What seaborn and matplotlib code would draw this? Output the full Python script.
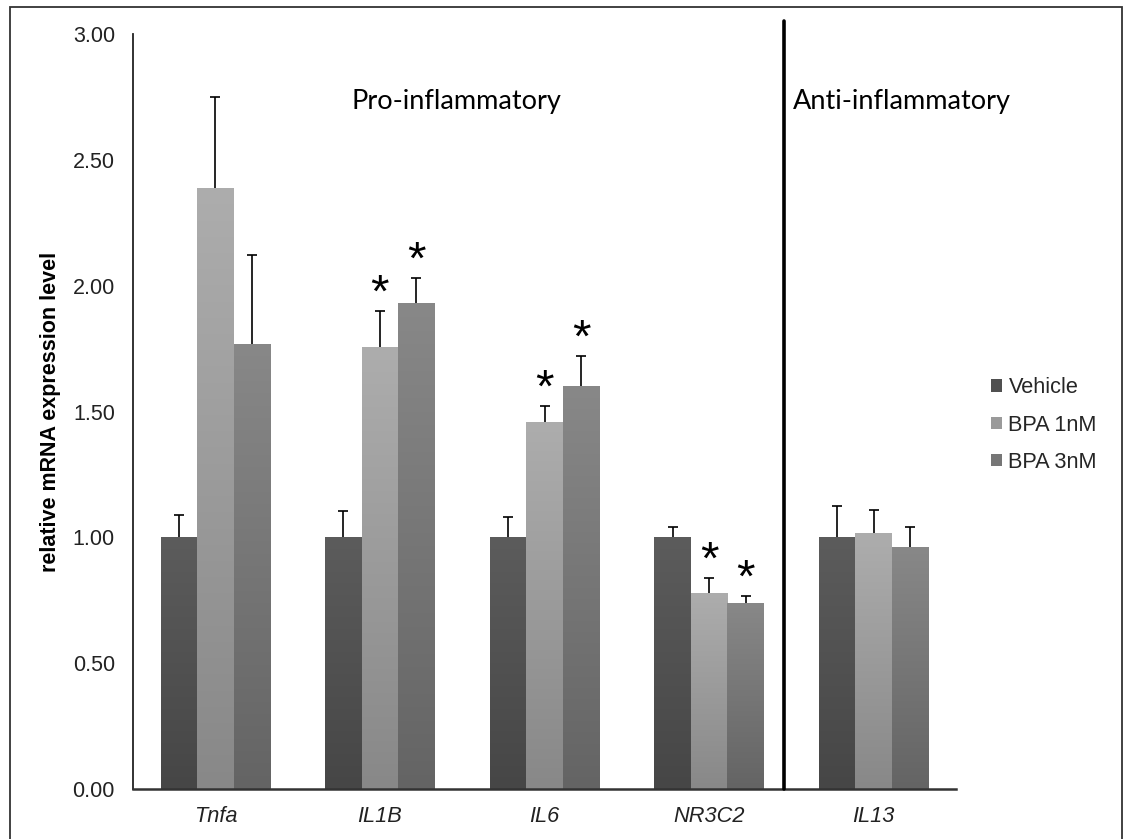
import numpy as np
import pandas as pd
import seaborn as sns
import matplotlib
matplotlib.use("Agg")
import matplotlib.pyplot as plt
from matplotlib.colors import LinearSegmentedColormap
from matplotlib.patches import Patch, Rectangle
from matplotlib.container import BarContainer

# ---- data ----
genes = ["Tnfa", "IL1B", "IL6", "NR3C2", "IL13"]
groups = ["Vehicle", "BPA 1nM", "BPA 3nM"]
vehicle = [1.00, 1.00, 1.00, 1.00, 1.00]
bpa1 = [2.39, 1.755, 1.46, 0.78, 1.016]
bpa3 = [1.77, 1.93, 1.60, 0.74, 0.96]
err_vehicle = [0.09, 0.105, 0.08, 0.04, 0.125]
err_bpa1 = [0.36, 0.145, 0.06, 0.057, 0.092]
err_bpa3 = [0.35, 0.10, 0.12, 0.025, 0.08]
sig_vehicle = [False, False, False, False, False]
sig_bpa1 = [False, True, True, True, False]
sig_bpa3 = [False, True, True, True, False]
yticks = [0.0, 0.5, 1.0, 1.5, 2.0, 2.5, 3.0]
section_labels = ["Pro-inflammatory", "Anti-inflammatory"]

values = [vehicle, bpa1, bpa3]
errors = [err_vehicle, err_bpa1, err_bpa3]
sigs = [sig_vehicle, sig_bpa1, sig_bpa3]

df = pd.DataFrame({
    "gene": np.tile(genes, 3),
    "group": np.repeat(groups, len(genes)),
    "value": np.concatenate(values),
})

# ---- style ----
sns.set_theme(style="white")
plt.rcParams["font.family"] = ["Liberation Sans", "DejaVu Sans"]

bottom_colors = ["#464646", "#888888", "#646464"]
top_colors = ["#5c5c5c", "#adadad", "#888888"]
mid_colors = ["#505050", "#9a9a9a", "#767676"]

fig = plt.figure(figsize=(11.28, 8.39), dpi=100)
ax = fig.add_axes([133 / 1128, 1 - 789 / 839, (956 - 133) / 1128, (789 - 34) / 839])

sns.barplot(data=df, x="gene", y="value", hue="group", order=genes, hue_order=groups,
            palette=mid_colors, width=0.665, errorbar=None, legend=False,
            saturation=1, linewidth=0, ax=ax)

bar_containers = [c for c in ax.containers if isinstance(c, BarContainer)]

# gradient fill + error bars + asterisks
for gi, cont in enumerate(bar_containers):
    cmap = LinearSegmentedColormap.from_list("g%d" % gi, [bottom_colors[gi], top_colors[gi]])
    for bi, patch in enumerate(cont.patches):
        x0 = patch.get_x()
        w = patch.get_width()
        h = patch.get_height()
        grad = np.linspace(0, 1, 256).reshape(-1, 1)
        im = ax.imshow(grad, extent=[x0, x0 + w, 0, h], origin="lower", aspect="auto",
                       cmap=cmap, zorder=patch.get_zorder() + 0.1, interpolation="bicubic")
        im.set_clip_path(patch)
        xc = x0 + w / 2
        e = errors[gi][bi]
        eb = ax.errorbar([xc], [h], yerr=[[0], [e]], fmt="none", ecolor="black",
                         elinewidth=1.2, capsize=3.9, capthick=1.2, zorder=5)
        caps = eb.lines[1]
        if len(caps) == 2:
            caps[0].set_visible(False)
        if sigs[gi][bi]:
            ax.text(xc, h + e + 0.065, "*", ha="center", va="center", fontsize=34,
                    color="black", zorder=6)

ax.set_xlim(-0.5, 4.5)
ax.set_ylim(0, 3.0)
ax.set_yticks(yticks)
ax.set_yticklabels(["%.2f" % t for t in yticks], fontsize=15.5, color="#222222")
ax.set_xticks(range(len(genes)))
ax.set_xticklabels(genes, fontsize=15.7, style="italic", color="#222222")
ax.tick_params(axis="y", length=0, pad=13)
ax.tick_params(axis="x", length=0, pad=12)
ax.set_xlabel("")
ax.set_ylabel("relative mRNA expression level", fontsize=15.5, fontweight="bold",
              color="black")
ax.yaxis.labelpad = 8

for s in ["top", "right"]:
    ax.spines[s].set_visible(False)
ax.spines["left"].set_color("#222222")
ax.spines["left"].set_linewidth(1.3)
ax.spines["bottom"].set_color("#333333")
ax.spines["bottom"].set_linewidth(1.8)
ax.grid(False)

# separator
sep_x = 3.455
ax.plot([sep_x, sep_x], [0, 3.05], color="black", lw=2.6, clip_on=False, zorder=4)

ax.text(1.468, 2.73, section_labels[0], ha="center", va="center", fontsize=19.5,
        family=["Lato", "DejaVu Sans"], color="black")
ax.text(4.172, 2.73, section_labels[1], ha="center", va="center", fontsize=19.5,
        family=["Lato", "DejaVu Sans"], color="black")

# legend
handles = [Patch(facecolor=mid_colors[i], edgecolor="none", label=groups[i]) for i in range(3)]
fig.legend(handles=handles, loc="center left", bbox_to_anchor=(991 / 1128, 1 - 425 / 839),
           frameon=False, fontsize=15.7, handlelength=0.5, handleheight=0.5,
           handletextpad=0.3, labelspacing=0.75, borderpad=0, borderaxespad=0)

# outer frame
fig.patches.append(Rectangle((10 / 1128, -0.01), (1122 - 10) / 1128, 1 - 7 / 839 + 0.01,
                             transform=fig.transFigure, fill=False, edgecolor="#333333",
                             lw=1.3, zorder=0))

fig.savefig("out.png", dpi=100)
